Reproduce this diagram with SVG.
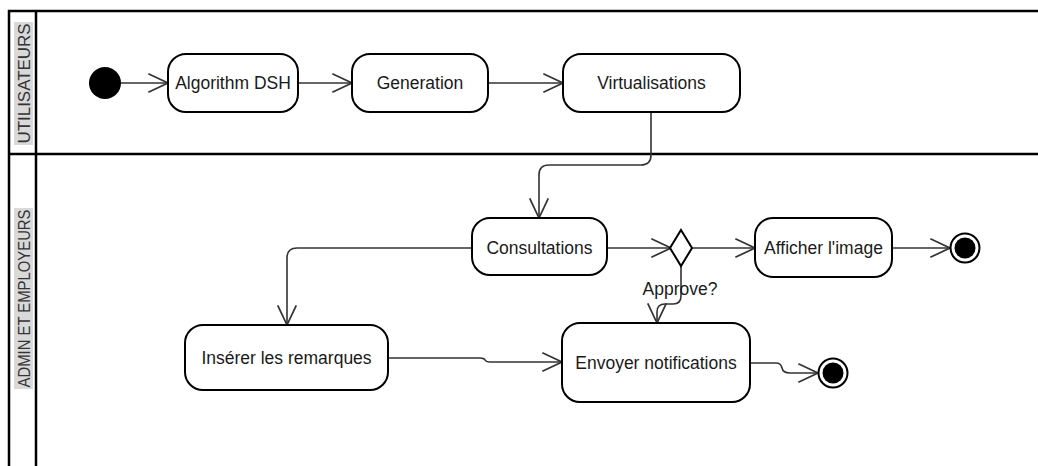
<svg xmlns="http://www.w3.org/2000/svg" width="1038" height="466" viewBox="0 0 1038 466">
  <defs>
    <marker id="open-arrow" markerUnits="userSpaceOnUse" markerWidth="24" markerHeight="24" viewBox="-20 -10 22 20" refX="0" refY="0" orient="auto" overflow="visible">
      <path d="M-18,-8.5 L0,0 L-18,8.5" fill="none" stroke="#333" stroke-width="1.6"/>
    </marker>
  </defs>
  <style>
    .pool { fill: none; stroke: #000; stroke-width: 2.5; }
    .lane-bg { fill: #d9d9d9; }
    .lane-label { font-family: "Liberation Sans", Arial, sans-serif; font-size: 16.5px; fill: #333; text-anchor: middle; }
    .action { fill: #fff; stroke: #000; stroke-width: 2; }
    .label { font-family: "Liberation Sans", Arial, sans-serif; font-size: 17.5px; fill: #1a1a1a; text-anchor: middle; }
    .flow { fill: none; stroke: #333; stroke-width: 1.6; marker-end: url(#open-arrow); }
  </style>
  <rect width="1038" height="466" fill="#fff"/>

  <!-- swimlane pool -->
  <g id="pool">
    <path class="pool" d="M1038,11 H9 V466 M36,11 V466 M9,154 H1038"/>
  </g>
  <g id="lane-utilisateurs">
    <rect class="lane-bg" x="14" y="22" width="19" height="123"/>
    <text class="lane-label" transform="translate(29.5,83.5) rotate(-90)" textLength="120" lengthAdjust="spacingAndGlyphs">UTILISATEURS</text>
  </g>
  <g id="lane-admin">
    <rect class="lane-bg" x="14" y="208" width="19" height="181"/>
    <text class="lane-label" transform="translate(29.5,298.5) rotate(-90)" textLength="178" lengthAdjust="spacingAndGlyphs">ADMIN ET EMPLOYEURS</text>
  </g>

  <!-- connectors -->
  <g id="connectors">
    <path class="flow" d="M121,83 H168"/>
    <path class="flow" d="M298,83 H352"/>
    <path class="flow" d="M488,83 H563"/>
    <path class="flow" d="M651,112 V155 Q651,165 641,165 H549 Q539,165 539,175 V218"/>
    <path class="flow" d="M607,248 H671"/>
    <path class="flow" d="M692,248 H755"/>
    <path class="flow" d="M892,248 H950"/>
    <path class="flow" d="M681,266 V296 Q681,304 673,304 H665 Q657,304 657,312 V323"/>
    <path class="flow" d="M472,248 H297 Q287,248 287,258 V325"/>
    <path class="flow" d="M388,358 H480 Q484,358 485,360 Q486,362 490,362 H562"/>
    <path class="flow" d="M750,363 H776 Q781,363 782,368 Q783,373 790,373 H818"/>
    <text class="label" x="680" y="295">Approve?</text>
  </g>

  <!-- nodes -->
  <g id="start">
    <circle cx="105" cy="83" r="16" fill="#000"/>
  </g>
  <g id="algorithm-dsh">
    <rect class="action" x="168" y="54" width="130" height="58" rx="18"/>
    <text class="label" x="233" y="89">Algorithm DSH</text>
  </g>
  <g id="generation">
    <rect class="action" x="352" y="54" width="136" height="58" rx="18"/>
    <text class="label" x="420" y="89">Generation</text>
  </g>
  <g id="virtualisations">
    <rect class="action" x="563" y="54" width="177" height="58" rx="18"/>
    <text class="label" x="651.5" y="89">Virtualisations</text>
  </g>
  <g id="consultations">
    <rect class="action" x="472" y="218" width="135" height="57" rx="18"/>
    <text class="label" x="539.5" y="254">Consultations</text>
  </g>
  <g id="decision">
    <polygon class="action" points="681,230 692,248 681,266 670,248"/>
  </g>
  <g id="afficher-image">
    <rect class="action" x="755" y="218" width="137" height="59" rx="18"/>
    <text class="label" x="823.5" y="254">Afficher l'image</text>
  </g>
  <g id="end-afficher">
    <circle cx="965" cy="248" r="14.5" fill="#fff" stroke="#000" stroke-width="2"/>
    <circle cx="965" cy="248" r="10.5" fill="#000"/>
  </g>
  <g id="inserer-remarques">
    <rect class="action" x="185" y="325" width="203" height="65" rx="18"/>
    <text class="label" x="286.5" y="363.5">Insérer les remarques</text>
  </g>
  <g id="envoyer-notifications">
    <rect class="action" x="562" y="323" width="188" height="79" rx="18"/>
    <text class="label" x="656" y="368.5">Envoyer notifications</text>
  </g>
  <g id="end-envoyer">
    <circle cx="833" cy="373" r="14.5" fill="#fff" stroke="#000" stroke-width="2"/>
    <circle cx="833" cy="373" r="10.5" fill="#000"/>
  </g>
</svg>
